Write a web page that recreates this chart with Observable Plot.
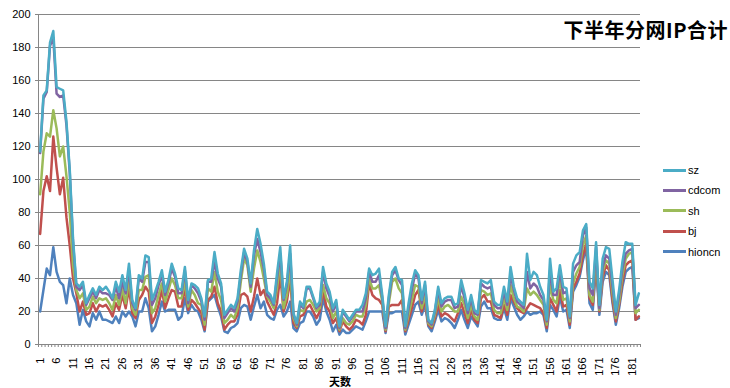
<!DOCTYPE html>
<html><head><meta charset="utf-8">
<script src="https://cdn.jsdelivr.net/npm/d3@7"></script>
<script src="https://cdn.jsdelivr.net/npm/@observablehq/plot@0.6"></script>
<style>
body{margin:0;background:#fff;}
#wrap{position:relative;width:730px;height:388px;overflow:hidden;font-family:"Liberation Sans",Arial,sans-serif;}
#title{position:absolute;right:2px;top:16px;font-family:"Noto Sans CJK SC",sans-serif;font-weight:bold;font-size:20px;line-height:28px;letter-spacing:0.5px;color:#000;white-space:nowrap;}
#xtitle{position:absolute;left:340px;top:373px;transform:translateX(-50%);font-family:"Noto Sans CJK SC",sans-serif;font-weight:bold;font-size:11px;line-height:16px;}
.li{position:absolute;left:663px;width:23px;height:3px;}
.lt{position:absolute;left:688px;font-size:11px;line-height:14px;}
</style></head><body><div id="wrap"></div>
<script>
const series = ["sz","cdcom","sh","bj","hioncn"];
const colors = ["#4BACC6","#8064A2","#9BBB59","#C0504D","#4F81BD"];
const yTicks = [0,20,40,60,80,100,120,140,160,180,200];
const xTickLabels = [1,6,11,16,21,26,31,36,41,46,51,56,61,66,71,76,81,86,91,96,101,106,111,116,121,126,131,136,141,146,151,156,161,166,171,176,181];
const title = "下半年分网IP合计";
const xTitle = "天数";

const sz = [117,151,154,183,190,156,155,154,135,106,
64,37,35,38,25,30,34,30,35,33,
35,32,28,38,32,42,33,49,27,22,
42,40,54,53,27,32,38,45,32,39,
49,43,34,33,47,27,37,36,34,28,
17,39,40,56,43,37,18,21,24,22,
28,45,58,52,37,57,70,61,49,32,
30,25,43,59,28,38,60,19,13,26,
23,35,35,29,23,26,47,37,32,22,
27,11,21,18,15,18,21,21,24,31,
46,42,43,46,30,11,30,44,47,40,
39,11,25,37,45,42,27,38,15,13,
21,35,25,28,29,29,24,25,39,31,
21,30,21,19,39,38,37,39,26,24,
24,35,26,47,35,28,26,24,55,39,
44,42,35,30,15,52,32,34,48,35,
34,17,49,54,56,69,73,38,34,62,
24,52,59,58,39,20,33,50,62,61,
61,24,31];
const cdcom = [116,149,153,181,186,152,150,151,133,104,
62,35,33,36,24,28,32,28,33,31,
31,30,27,35,28,38,31,45,25,21,
40,38,50,50,24,28,36,42,30,37,
46,41,31,31,45,25,36,34,31,26,
15,38,38,50,40,35,16,19,22,20,
26,42,56,50,35,54,64,56,46,30,
28,24,40,55,27,36,55,18,12,24,
22,34,34,28,22,24,44,34,29,20,
25,10,20,17,14,17,20,20,20,28,
44,38,38,42,28,10,28,42,45,39,
36,10,22,33,43,40,25,36,14,12,
20,33,23,26,27,27,22,23,36,28,
19,28,19,18,37,35,34,35,24,22,
22,32,24,42,33,26,24,22,44,34,
37,35,30,27,14,45,30,30,45,31,
32,16,44,48,50,66,71,34,30,59,
22,47,54,52,35,18,30,46,55,57,
58,22,24];
const sh = [91,117,128,126,142,131,114,120,102,80,
48,33,28,31,21,23,29,25,28,27,
28,25,21,30,24,34,25,40,22,18,
33,33,41,42,19,22,30,37,26,33,
40,36,28,28,38,23,33,30,25,24,
12,34,32,44,32,27,13,15,18,16,
22,38,52,48,32,46,57,50,40,29,
26,22,34,50,22,30,45,16,11,21,
20,26,27,24,20,22,36,28,25,16,
20,9,16,13,12,14,18,17,17,24,
40,34,34,36,26,9,25,38,40,34,
31,9,18,27,36,35,22,30,13,11,
18,28,20,23,24,22,20,20,29,24,
16,24,17,15,33,32,30,31,21,19,
19,28,21,36,28,23,22,20,34,30,
32,30,27,24,12,36,27,25,40,27,
28,14,37,43,47,60,66,30,26,55,
21,44,51,49,31,16,26,42,52,55,
56,19,21];
const bj = [67,93,102,93,126,107,91,101,77,60,
40,31,20,26,18,19,25,20,24,23,
24,21,17,25,21,30,22,34,19,16,
27,30,35,32,13,17,24,33,22,28,
33,32,23,23,34,21,27,25,22,19,
9,27,29,35,25,20,9,12,14,14,
18,30,31,29,20,29,40,30,33,26,
22,18,25,42,20,26,40,13,10,17,
18,22,24,20,16,20,33,23,20,13,
16,8,14,11,9,11,15,14,12,18,
37,30,28,27,24,8,23,24,24,24,
27,8,15,22,30,33,20,27,12,10,
16,24,17,19,18,16,14,19,25,19,
13,21,15,13,28,30,26,26,18,17,
16,24,18,30,26,22,20,19,22,25,
24,23,22,19,10,28,24,20,33,23,
24,12,34,38,43,54,61,28,24,51,
20,41,48,45,27,14,24,38,48,50,
51,15,17];
const hioncn = [20,33,46,42,59,44,38,36,25,40,
30,25,12,21,14,11,19,15,20,15,
15,14,13,17,13,20,17,20,17,11,
20,20,28,22,8,11,18,26,20,21,
21,21,15,17,28,19,24,21,20,15,
8,26,28,30,23,17,8,7,10,11,
13,22,24,23,15,23,30,22,26,18,
16,15,21,24,17,20,26,10,8,13,
14,20,20,17,12,15,28,20,15,8,
12,6,9,7,7,9,11,10,9,14,
20,20,20,20,20,7,19,19,20,20,
20,6,12,18,24,26,18,24,11,8,
14,21,14,16,15,13,10,15,21,15,
10,17,14,11,23,26,22,22,16,15,
15,22,15,28,23,18,15,17,20,18,
19,19,20,18,8,24,21,17,29,20,
21,10,32,36,41,51,59,25,21,48,
18,38,44,42,25,12,22,35,44,46,
47,15,16];

const values = {sz, cdcom, sh, bj, hioncn};
const nDays = sz.length;
const rows = [];
for (const s of series) values[s].forEach((v, i) => rows.push({series: s, day: i + 1, value: v}));
const boundaries = d3.range(0.5, nDays + 1, 1);
const grey = "#868686";

const drawOrder = ["hioncn","bj","sh","cdcom","sz"];
const chart = Plot.plot({
  width: 730, height: 388,
  marginLeft: 38, marginRight: 90, marginTop: 14, marginBottom: 44,
  style: {fontFamily: "'Liberation Sans', Arial, sans-serif", fontSize: "11px", color: "#000", background: "transparent", overflow: "visible"},
  x: {domain: [0.5, nDays + 0.5], axis: null},
  y: {domain: [0, 200], axis: null},
  color: {domain: series, range: colors},
  marks: [
    Plot.gridY(yTicks, {stroke: grey, strokeOpacity: 1, strokeWidth: 1}),
    Plot.axisY(yTicks, {tickSize: 3, tickPadding: 5, stroke: grey, label: null, fontSize: 11}),
    Plot.axisX(boundaries, {tickSize: 3, tickFormat: () => "", stroke: grey, label: null}),
    Plot.axisX(xTickLabels, {tickSize: 0, tickPadding: 13, tickRotate: -90, label: null, fontSize: 11}),
    Plot.ruleX([0.5], {stroke: grey}),
    Plot.ruleY([0], {stroke: grey}),
    ...drawOrder.map(s => Plot.lineY(rows.filter(r => r.series === s), {x: "day", y: "value", stroke: "series", strokeWidth: 2.5, strokeLinejoin: "round"}))
  ]
});
const wrap = document.getElementById("wrap");
wrap.appendChild(chart);
const t = document.createElement("div"); t.id = "title"; t.textContent = title; wrap.appendChild(t);
const xt = document.createElement("div"); xt.id = "xtitle"; xt.textContent = xTitle; wrap.appendChild(xt);
series.forEach((s, i) => {
  const cy = 170 + i * 20.4;
  const l = document.createElement("div"); l.className = "li"; l.style.top = (cy - 1.5) + "px"; l.style.background = colors[i]; wrap.appendChild(l);
  const tx = document.createElement("div"); tx.className = "lt"; tx.style.top = (cy - 7) + "px"; tx.textContent = s; wrap.appendChild(tx);
});
</script></body></html>
